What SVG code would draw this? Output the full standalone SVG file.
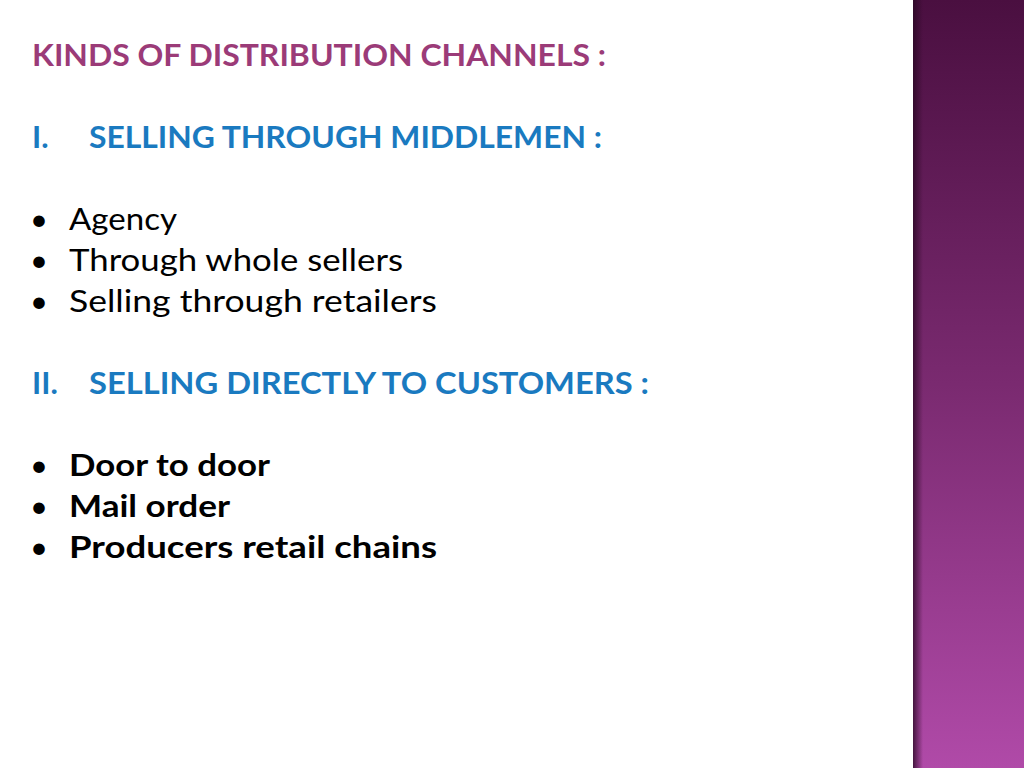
<svg xmlns="http://www.w3.org/2000/svg" width="1024" height="768" viewBox="0 0 1024 768">
<defs>
<linearGradient id="g" x1="0" y1="0" x2="0" y2="1">
<stop offset="0" stop-color="#4a0f40"/>
<stop offset="0.5" stop-color="#7a2a70"/>
<stop offset="1" stop-color="#b04aa8"/>
</linearGradient>
<linearGradient id="e" x1="0" y1="0" x2="1" y2="0">
<stop offset="0" stop-color="#2a0824" stop-opacity="0.8"/>
<stop offset="1" stop-color="#2a0824" stop-opacity="0"/>
</linearGradient>
</defs>
<style>
text{font-family:Lato,"Open Sans",sans-serif;font-size:31px}
.t{fill:#9b3b78;font-weight:bold}
.h{fill:#1a7ac0;font-weight:bold}
.b{fill:#000}
.bb{fill:#000;font-weight:bold}
</style>
<rect width="1024" height="768" fill="#fff"/>
<rect x="913" y="0" width="111" height="768" fill="url(#g)"/>
<rect x="913" y="0" width="10" height="768" fill="url(#e)"/>
<text class="t" x="32" y="66" textLength="574" lengthAdjust="spacingAndGlyphs">KINDS OF DISTRIBUTION CHANNELS :</text>
<text class="h" x="32" y="148">I.</text>
<text class="h" x="89" y="148" textLength="513" lengthAdjust="spacingAndGlyphs">SELLING THROUGH MIDDLEMEN :</text>
<text class="b" x="30" y="230">•</text><text class="b" x="69" y="230" textLength="108" lengthAdjust="spacingAndGlyphs">Agency</text>
<text class="b" x="30" y="271">•</text><text class="b" x="69" y="271" textLength="334" lengthAdjust="spacingAndGlyphs">Through whole sellers</text>
<text class="b" x="30" y="312">•</text><text class="b" x="69" y="312" textLength="368" lengthAdjust="spacingAndGlyphs">Selling through retailers</text>
<text class="h" x="32" y="394">II.</text>
<text class="h" x="89" y="394" textLength="560" lengthAdjust="spacingAndGlyphs">SELLING DIRECTLY TO CUSTOMERS :</text>
<text class="b" x="30" y="476">•</text><text class="bb" x="69" y="476" textLength="201" lengthAdjust="spacingAndGlyphs">Door to door</text>
<text class="b" x="30" y="517">•</text><text class="bb" x="69" y="517" textLength="161" lengthAdjust="spacingAndGlyphs">Mail order</text>
<text class="b" x="30" y="558">•</text><text class="bb" x="69" y="558" textLength="368" lengthAdjust="spacingAndGlyphs">Producers retail chains</text>
</svg>
